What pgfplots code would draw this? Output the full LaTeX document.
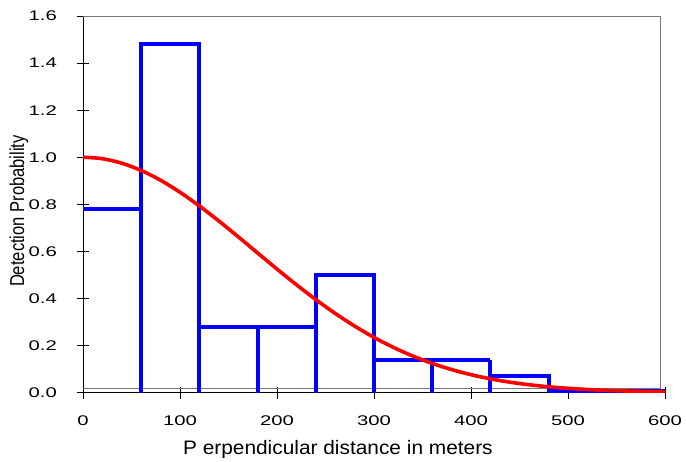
\documentclass[border=0pt]{standalone}
\usepackage{pgfplots}
\pgfplotsset{compat=1.18}
\usepackage{fontspec}
\setmainfont{Liberation Sans}

\definecolor{histblue}{RGB}{0,0,255}
\definecolor{fitred}{RGB}{255,0,0}
\definecolor{framegray}{RGB}{120,120,120}

\begin{document}
\begin{tikzpicture}
\path[use as bounding box] (-83pt,-68.5pt) rectangle (603pt,392.5pt);
\begin{axis}[
  at={(0,0)}, anchor=south west,
  scale only axis, width=582pt, height=376.5pt,
  xmin=0, xmax=600, ymin=0, ymax=1.6,
  axis x line*=bottom, axis y line*=left,
  axis line style={-, black, line width=0.8pt},
  xtick={0,100,200,300,400,500,600},
  ytick={0,0.2,0.4,0.6,0.8,1.0,1.2,1.4,1.6},
  tick align=center, major tick length=12pt,
  tick style={black, line width=0.8pt},
  /pgf/number format/assume math mode=true,
  xticklabel={\scalebox{1.45}[1]{\pgfmathprintnumber{\tick}}},
  yticklabel={\scalebox{1.45}[1]{\pgfmathprintnumber[fixed,fixed zerofill,precision=1]{\tick}}},
  xticklabel style={font=\fontsize{14}{16}\selectfont, inner sep=0pt, anchor=center, yshift=-22.5pt},
  yticklabel style={font=\fontsize{14}{16}\selectfont, inner sep=0pt, anchor=east, xshift=-20pt},
  xlabel={\scalebox{1.07}[1]{P erpendicular distance in meters}},
  xlabel style={font=\fontsize{19.5}{22}\selectfont, at={(axis description cs:0.438,-0.152)}, anchor=center},
  ylabel={\scalebox{0.92}[1.12]{Detection Probability}},
  ylabel style={font=\fontsize{18}{20}\selectfont, at={(axis description cs:-0.110,0.482)}, anchor=center},
  unbounded coords=jump,
]
% plot-area frame
\draw[framegray, line width=0.8pt] (axis cs:0,1.6) -- (axis cs:595,1.6) -- (axis cs:595,0.017) -- (axis cs:0,0.017);

% histogram of detections, 60 m bins
\addplot[histblue, line width=4pt, line join=miter] coordinates {
  (0,0.78) (60,0.78) (60,nan)
  (60,0) (60,1.48) (120,1.48) (120,0) (120,nan)
  (120,0.28) (240,0.28) (240,nan)
  (180,0) (180,0.28) (180,nan)
  (240,0) (240,0.50) (300,0.50) (300,0) (300,nan)
  (300,0.14) (420,0.14) (420,nan)
  (360,0) (360,0.14) (360,nan)
  (420,0) (420,0.14) (420,nan)
  (420,0.07) (480,0.07) (480,0.006) (600,0.006)
};

% fitted half-normal detection function
\addplot[fitred, line width=3.6pt, smooth] coordinates {
  (0,1.0000) (20,0.9936) (40,0.9745) (60,0.9436) (80,0.9019) (100,0.8510)
  (120,0.7927) (140,0.7290) (160,0.6617) (180,0.5930) (200,0.5246)
  (220,0.4581) (240,0.3949) (260,0.3361) (280,0.2824) (300,0.2342)
  (320,0.1917) (340,0.1549) (360,0.1237) (380,0.0974) (400,0.0757)
  (420,0.0581) (440,0.0440) (460,0.0329) (480,0.0243) (500,0.0177)
  (520,0.0128) (540,0.0091) (560,0.0064) (580,0.0044) (600,0.0030)
};
\end{axis}
\end{tikzpicture}
\end{document}
